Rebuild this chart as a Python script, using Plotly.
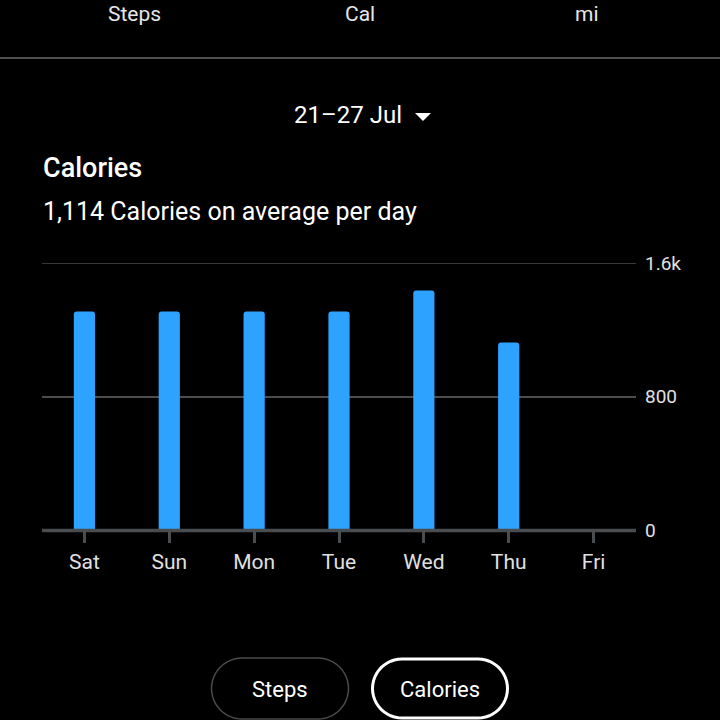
import plotly.graph_objects as go

days = ["Sat", "Sun", "Mon", "Tue", "Wed", "Thu", "Fri"]
calories = [1310, 1310, 1310, 1310, 1435, 1123, None]
y_tickvals = [0, 800, 1600]
y_ticktext = ["0", "800", "1.6k"]
top_labels = ["Steps", "Cal", "mi"]
date_label = "21–27 Jul"
title_text = "Calories"
subtitle_text = "1,114 Calories on average per day"
button_labels = ["Steps", "Calories"]

W, H = 720, 720
L, R, T, B = 42, 84, 263, 190
PW, PH = W - L - R, H - T - B

def px(x):
    return (x - L) / PW

def py(y):
    return (H - B - y) / PH

FONT = "Roboto"

fig = go.Figure()
fig.add_trace(go.Bar(
    x=days, y=calories, width=0.25,
    marker=dict(color="#2ea2ff", line=dict(width=0)),
    hoverinfo="skip",
))

def pill(x0, x1, y0, y1, n=24):
    import math
    r = (y1 - y0) / 2
    cy = (y0 + y1) / 2
    pts = []
    for i in range(n + 1):
        a = -math.pi / 2 + math.pi * i / n
        pts.append((x1 - r + r * math.cos(a), cy + r * math.sin(a)))
    for i in range(n + 1):
        a = math.pi / 2 + math.pi * i / n
        pts.append((x0 + r + r * math.cos(a), cy + r * math.sin(a)))
    d = "M " + " L ".join(f"{px(a):.5f},{py(b):.5f}" for a, b in pts) + " Z"
    return d

shapes = [
    dict(type="line", xref="paper", yref="paper", x0=px(0), x1=px(720), y0=py(58), y1=py(58),
         line=dict(color="#505050", width=2)),
    dict(type="path", xref="paper", yref="paper",
         path=f"M {px(415)},{py(113)} L {px(431)},{py(113)} L {px(423)},{py(121)} Z",
         fillcolor="#ffffff", line=dict(width=0)),
    dict(type="line", xref="paper", yref="y", x0=0, x1=1, y0=y_tickvals[-1], y1=y_tickvals[-1],
         line=dict(color="#4d4d4d", width=1.5), layer="below"),
    dict(type="line", xref="paper", yref="paper", x0=0, x1=1, y0=py(530.5), y1=py(530.5),
         line=dict(color="#4a4d50", width=3.5), layer="above"),
    dict(type="path", xref="paper", yref="paper", path=pill(211.5, 348.5, 658, 719),
         line=dict(color="#4a4a4a", width=1.5)),
    dict(type="path", xref="paper", yref="paper", path=pill(372.5, 507.5, 659, 718),
         line=dict(color="#ffffff", width=3)),
]

annotations = []
for lab, xc in zip(top_labels, [134, 360, 587]):
    annotations.append(dict(text=lab, x=px(xc), y=py(0), xref="paper", yref="paper",
                            showarrow=False, xanchor="center", yanchor="top",
                            font=dict(family=FONT, size=21, color="#e6e6e6")))
annotations.append(dict(text=date_label, x=px(348), y=py(115), xref="paper", yref="paper",
                        showarrow=False, xanchor="center", yanchor="middle",
                        font=dict(family=FONT, size=24, color="#ffffff")))
annotations.append(dict(text=title_text, x=px(41), y=py(168), xref="paper", yref="paper",
                        showarrow=False, xanchor="left", yanchor="middle",
                        font=dict(family=FONT, size=27, color="#ffffff", weight=500)))
annotations.append(dict(text=subtitle_text, x=px(41), y=py(211), xref="paper", yref="paper",
                        showarrow=False, xanchor="left", yanchor="middle",
                        font=dict(family=FONT, size=25, color="#ffffff")))
for lab, xc in zip(button_labels, [280, 440]):
    annotations.append(dict(text=lab, x=px(xc), y=py(689), xref="paper", yref="paper",
                            showarrow=False, xanchor="center", yanchor="middle",
                            font=dict(family=FONT, size=22, color="#ffffff")))

fig.update_layout(
    width=W, height=H,
    margin=dict(l=L, r=R, t=T, b=B, pad=0),
    paper_bgcolor="#000000", plot_bgcolor="#000000",
    showlegend=False,
    barcornerradius=3,
    shapes=shapes,
    annotations=annotations,
    font=dict(family=FONT, color="#e0e0e0"),
)
fig.update_xaxes(
    range=[-0.5, 6.5], showgrid=False, zeroline=False, showline=False,
    ticks="outside", ticklen=12, tickwidth=3, tickcolor="#4a4d50",
    tickfont=dict(family=FONT, size=21, color="#e0e0e0"),
    ticklabelstandoff=1,
    fixedrange=True,
)
fig.update_yaxes(
    range=[0, 1600], side="right", tickvals=y_tickvals, ticktext=y_ticktext,
    showgrid=True, gridcolor="#4d4d4d", gridwidth=1.5, zeroline=False, showline=False,
    ticks="", ticklabelstandoff=8,
    tickfont=dict(family=FONT, size=19, color="#e0e0e0"),
    fixedrange=True,
)

fig.write_html("out.html", config={"displayModeBar": False})
